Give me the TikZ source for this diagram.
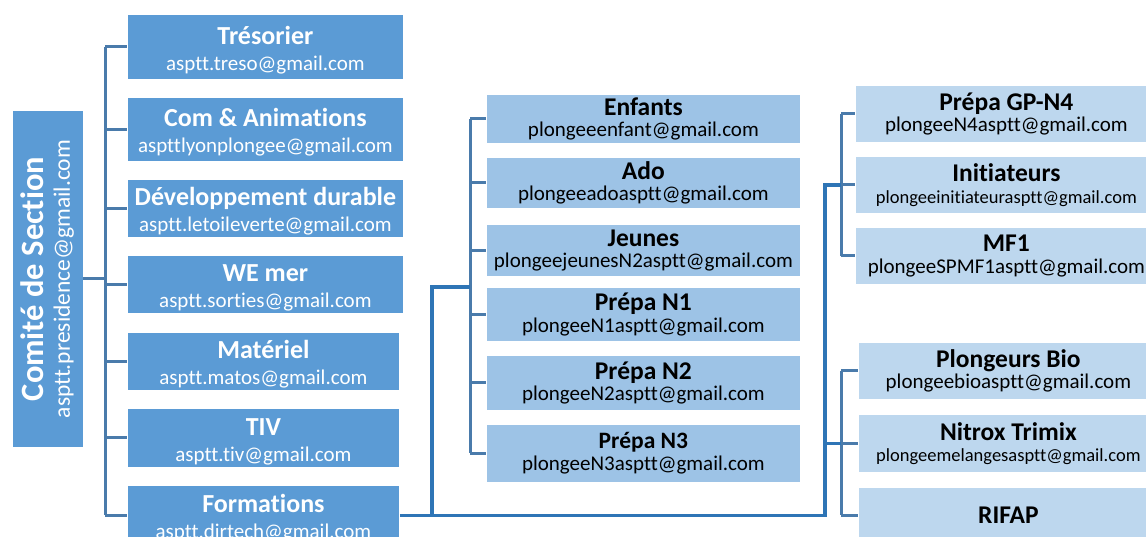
\documentclass[tikz,border=0pt]{standalone}
\usepackage{fontspec}
\setmainfont{Carlito}[Ligatures=NoCommon]
\usetikzlibrary{positioning,calc}
\definecolor{bleufonce}{HTML}{5B9BD5}
\definecolor{bleumoyen}{HTML}{9DC3E6}
\definecolor{bleuclair}{HTML}{BDD7EE}
\definecolor{trait}{HTML}{4A7BAB}
\definecolor{traitfort}{HTML}{2E75B6}
% titre en gras + adresse
\newcommand{\fiche}[3][26]{{\fontsize{#1}{#1}\selectfont\bfseries #2}\\#3}
\newcommand{\fichegauche}[2]{\fiche{\rule{0pt}{24pt}#1}{#2}}
\newcommand{\petit}[1]{{\fontsize{18.5}{21.5}\selectfont #1}}

\begin{document}
\begin{tikzpicture}[x=1pt, y=-1pt]
  \tikzstyle{boite}=[anchor=north west, align=center, inner sep=0pt, draw=white, line width=0.8pt]
  \tikzstyle{gauche}=[boite, fill=bleufonce, text=white, font=\fontsize{21}{26}\selectfont]
  \tikzstyle{milieu}=[boite, fill=bleumoyen, text=black, minimum width=314pt, font=\fontsize{21}{21.5}\selectfont]
  \tikzstyle{droite}=[boite, fill=bleuclair, text=black, font=\fontsize{21}{21.5}\selectfont]
  \tikzstyle{lien}=[-, line width=3pt, trait]
  \tikzstyle{lienfort}=[-, line width=3.3pt, traitfort]

  \clip (0,0) rectangle (1146,537);
  \useasboundingbox (0,0) rectangle (1146,537);

  % Comité de Section
  \node[gauche, anchor=center, rotate=90, minimum width=337pt, minimum height=71pt] (comite) at (47.5,279)
    {{\fontsize{32.5}{32.5}\selectfont\bfseries Comité de Section}\\{\fontsize{23.5}{25}\selectfont asptt.presidence@gmail.com}};

  % Colonne de gauche
  \node[gauche, minimum width=276pt, minimum height=65pt] (tresorier) at (127,14) {\fichegauche{Trésorier}{asptt.treso@gmail.com}};
  \node[gauche, minimum width=276pt, minimum height=64pt] (com) at (127,97) {\fichegauche{Com \& Animations}{aspttlyonplongee@gmail.com}};
  \node[gauche, minimum width=276pt, minimum height=58pt] (durable) at (127,179) {\fichegauche{Développement durable}{asptt.letoileverte@gmail.com}};
  \node[gauche, minimum width=276pt, minimum height=58pt] (wemer) at (127,255) {\fichegauche{WE mer}{asptt.sorties@gmail.com}};
  \node[gauche, minimum width=272pt, minimum height=58pt] (materiel) at (127,332) {\fichegauche{Matériel}{asptt.matos@gmail.com}};
  \node[gauche, minimum width=272pt, minimum height=59pt] (tiv) at (127,408) {\fichegauche{TIV}{asptt.tiv@gmail.com}};
  \node[gauche, minimum width=272pt, minimum height=60pt] (formations) at (127,485) {\fichegauche{Formations}{asptt.dirtech@gmail.com}};

  % Colonne du milieu
  \node[milieu, minimum height=49pt] (enfants) at (486,94) {\fiche[25.5]{Enfants}{plongeeenfant@gmail.com}};
  \node[milieu, minimum height=51pt] (ado) at (486,157) {\fiche[25.5]{Ado}{plongeeadoasptt@gmail.com}};
  \node[milieu, minimum height=52pt] (jeunes) at (486,224) {\fiche[25.5]{Jeunes}{plongeejeunesN2asptt@gmail.com}};
  \node[milieu, minimum height=54pt] (prepaNun) at (486,287) {\fiche[25.5]{Prépa N1}{plongeeN1asptt@gmail.com}};
  \node[milieu, minimum height=55pt] (prepaNdeux) at (486,355) {\fiche[25.5]{Prépa N2}{plongeeN2asptt@gmail.com}};
  \node[milieu, minimum height=58pt] (prepaNtrois) at (486,424) {\fiche[23.5]{Prépa N3}{plongeeN3asptt@gmail.com}};

  % Colonne de droite
  \node[droite, minimum width=302pt, minimum height=57pt] (gpnquatre) at (855,85) {\fiche[25.5]{Prépa GP-N4}{plongeeN4asptt@gmail.com}};
  \node[droite, minimum width=302pt, minimum height=57pt] (initiateurs) at (855,156) {\fiche[25.5]{Initiateurs}{\petit{plongeeinitiateurasptt@gmail.com}}};
  \node[droite, minimum width=302pt, minimum height=57pt] (mfun) at (855,227) {\fiche[25.5]{MF1}{plongeeSPMF1asptt@gmail.com}};
  \node[droite, minimum width=300pt, minimum height=57pt] (bio) at (858,342) {\fiche[25.5]{Plongeurs Bio}{plongeebioasptt@gmail.com}};
  \node[droite, minimum width=300pt, minimum height=58pt] (nitrox) at (858,414) {\fiche[25.5]{Nitrox Trimix}{\petit{plongeemelangesasptt@gmail.com}}};
  \node[droite, minimum width=300pt, minimum height=56pt] (rifap) at (858,487) {\fontsize{25.5}{25.5}\selectfont\bfseries RIFAP};

  % Troncs
  \coordinate (tg) at (105,0);
  \coordinate (tm) at (470,0);
  \coordinate (ja) at (432,0);
  \coordinate (jb) at (825,0);
  \coordinate (td) at (841,0);

  % Liens de gauche
  \draw[lien] (comite.south) -- (tg |- comite.south);
  \draw[lien] (tg |- tresorier.west) -- (tg |- formations.west);
  \foreach \n in {tresorier,com,durable,wemer,materiel,tiv,formations}
    \draw[lien] (tg |- \n.west) -- (\n.west);

  % Liens du milieu
  \draw[lien] (tm |- enfants.west) -- (tm |- prepaNtrois.west);
  \foreach \n in {enfants,ado,jeunes,prepaNun,prepaNdeux,prepaNtrois}
    \draw[lien] (tm |- \n.west) -- (\n.west);

  % Liens de droite
  \draw[lien] (td |- gpnquatre.west) -- (td |- mfun.west);
  \draw[lien] (td |- bio.west) -- (td |- rifap.west);
  \foreach \n in {gpnquatre,initiateurs,mfun,bio,nitrox,rifap}
    \draw[lien] (td |- \n.west) -- (\n.west);

  % Formations vers les sous-groupes
  \draw[lienfort] (formations.east) -- (jb |- formations.east) |- (td |- initiateurs.west);
  \draw[lienfort] (ja |- formations.east) |- (tm |- prepaNun.north);
  \draw[lienfort] (jb |- nitrox.west) -- (td |- nitrox.west);
\end{tikzpicture}
\end{document}
